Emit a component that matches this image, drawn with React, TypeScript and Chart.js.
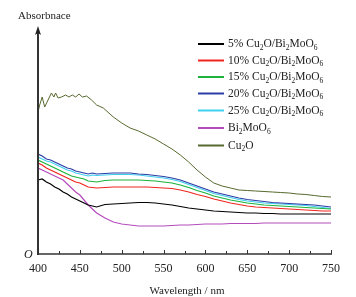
import React, { useEffect, useRef } from "react";
import { Chart, registerables } from "chart.js";

Chart.register(...registerables);

const wavelengths = [400,405,410,415,420,425,430,435,440,445,450,455,460,465,470,480,490,500,510,520,530,540,550,560,570,580,590,600,610,620,630,640,650,660,670,680,690,700,710,720,730,740,750];

const s5 = [0.74,0.75,0.72,0.70,0.67,0.65,0.62,0.60,0.57,0.55,0.53,0.51,0.49,0.48,0.47,0.495,0.50,0.505,0.51,0.515,0.515,0.51,0.50,0.49,0.475,0.46,0.45,0.44,0.43,0.425,0.42,0.415,0.41,0.41,0.405,0.405,0.40,0.40,0.40,0.40,0.40,0.40,0.40];
const s10 = [0.91,0.89,0.86,0.84,0.82,0.80,0.78,0.76,0.74,0.72,0.71,0.69,0.67,0.665,0.66,0.665,0.67,0.67,0.67,0.67,0.67,0.665,0.66,0.655,0.64,0.62,0.595,0.575,0.55,0.53,0.51,0.495,0.48,0.47,0.465,0.46,0.455,0.45,0.445,0.44,0.435,0.43,0.43];
const s15 = [0.94,0.92,0.90,0.88,0.86,0.84,0.82,0.80,0.78,0.77,0.76,0.75,0.73,0.725,0.72,0.735,0.74,0.74,0.74,0.74,0.735,0.73,0.72,0.71,0.69,0.665,0.635,0.61,0.58,0.56,0.54,0.525,0.51,0.50,0.49,0.485,0.48,0.475,0.47,0.465,0.46,0.455,0.45];
const s20 = [1.00,0.98,0.95,0.94,0.92,0.90,0.88,0.86,0.85,0.83,0.82,0.81,0.80,0.81,0.80,0.805,0.81,0.81,0.81,0.80,0.795,0.785,0.775,0.76,0.74,0.71,0.68,0.65,0.62,0.60,0.58,0.56,0.545,0.535,0.525,0.515,0.51,0.505,0.50,0.495,0.49,0.48,0.47];
const s25 = [0.97,0.95,0.93,0.92,0.90,0.88,0.86,0.84,0.83,0.81,0.80,0.79,0.78,0.79,0.785,0.79,0.795,0.795,0.795,0.79,0.78,0.77,0.76,0.745,0.725,0.695,0.665,0.635,0.605,0.585,0.565,0.545,0.53,0.52,0.51,0.505,0.50,0.495,0.49,0.485,0.475,0.465,0.455];
const bmo = [0.86,0.84,0.82,0.80,0.78,0.76,0.74,0.70,0.66,0.62,0.59,0.54,0.49,0.45,0.41,0.36,0.32,0.30,0.29,0.28,0.28,0.28,0.28,0.285,0.29,0.29,0.295,0.30,0.30,0.30,0.305,0.305,0.305,0.305,0.31,0.31,0.31,0.31,0.31,0.31,0.31,0.31,0.31];

const cu2oWavelengths = [400,402,405,408,412,416,419,421,424,428,433,437,441,445,449,453,458,464,470,478,490,500,510,520,530,540,550,560,570,580,590,600,610,620,630,640,650,660,670,680,690,700,710,720,730,740,750];
const cu2o = [1.42,1.49,1.57,1.47,1.54,1.61,1.57,1.61,1.56,1.57,1.59,1.57,1.59,1.57,1.60,1.57,1.58,1.54,1.49,1.46,1.37,1.31,1.26,1.23,1.19,1.15,1.10,1.05,0.99,0.92,0.84,0.77,0.71,0.68,0.66,0.64,0.635,0.63,0.625,0.62,0.615,0.61,0.60,0.595,0.585,0.575,0.57];

const xTicks = [400, 450, 500, 550, 600, 650, 700, 750];

// legend label parts: [text, isSubscript]
const legendParts: [string, boolean][][] = [
  [["5% Cu", false], ["2", true], ["O/Bi", false], ["2", true], ["MoO", false], ["6", true]],
  [["10% Cu", false], ["2", true], ["O/Bi", false], ["2", true], ["MoO", false], ["6", true]],
  [["15% Cu", false], ["2", true], ["O/Bi", false], ["2", true], ["MoO", false], ["6", true]],
  [["20% Cu", false], ["2", true], ["O/Bi", false], ["2", true], ["MoO", false], ["6", true]],
  [["25% Cu", false], ["2", true], ["O/Bi", false], ["2", true], ["MoO", false], ["6", true]],
  [["Bi", false], ["2", true], ["MoO", false], ["6", true]],
  [["Cu", false], ["2", true], ["O", false]],
];
const seriesNames = ["5% Cu2O/Bi2MoO6", "10% Cu2O/Bi2MoO6", "15% Cu2O/Bi2MoO6", "20% Cu2O/Bi2MoO6", "25% Cu2O/Bi2MoO6", "Bi2MoO6", "Cu2O"];
const seriesX = [wavelengths, wavelengths, wavelengths, wavelengths, wavelengths, wavelengths, cu2oWavelengths];
const seriesValues = [s5, s10, s15, s20, s25, bmo, cu2o];
const colors = ["#000000", "#f0261e", "#1cb43c", "#2c3ea6", "#3fd0f0", "#b44cbc", "#56692e"];

const SERIF = '"Liberation Serif", "Times New Roman", serif';

const decorPlugin = {
  id: "decor",
  afterDraw(chart: any) {
    const ctx = chart.ctx;
    const { left, right, bottom } = chart.chartArea;
    const xs = chart.scales.x;
    ctx.save();
    // axes
    ctx.strokeStyle = "#333";
    ctx.lineWidth = 2;
    ctx.beginPath();
    ctx.moveTo(left, bottom + 1);
    ctx.lineTo(left, 33);
    ctx.stroke();
    ctx.fillStyle = "#222";
    ctx.beginPath();
    ctx.moveTo(left, 26);
    ctx.lineTo(left - 3, 35);
    ctx.lineTo(left, 33);
    ctx.lineTo(left + 3, 35);
    ctx.closePath();
    ctx.fill();
    ctx.lineWidth = 1.5;
    ctx.beginPath();
    ctx.moveTo(left - 1, bottom);
    ctx.lineTo(right + 1, bottom);
    ctx.stroke();
    // inner ticks
    ctx.lineWidth = 1;
    for (let v = 425; v <= 750; v += 25) {
      const x = Math.round(xs.getPixelForValue(v)) + 0.5;
      const len = v % 50 === 0 ? 4 : 3;
      ctx.beginPath();
      ctx.moveTo(x, bottom);
      ctx.lineTo(x, bottom - len);
      ctx.stroke();
    }
    // texts
    ctx.fillStyle = "#222";
    ctx.textBaseline = "middle";
    ctx.font = `italic 12px ${SERIF}`;
    ctx.textAlign = "left";
    ctx.fillText("O", 24, 255);
    ctx.font = `11px ${SERIF}`;
    ctx.fillText("Absorbnace", 18, 16);
    ctx.textAlign = "center";
    ctx.font = `11px ${SERIF}`;
    ctx.fillText("Wavelength / nm", 187, 291);
    // legend
    ctx.textAlign = "left";
    const rowY = [44, 60.5, 77, 93.5, 110.5, 128, 145.5];
    legendParts.forEach((parts, i) => {
      const y = rowY[i];
      ctx.strokeStyle = colors[i];
      ctx.lineWidth = 2;
      ctx.beginPath();
      ctx.moveTo(198, y);
      ctx.lineTo(224, y);
      ctx.stroke();
      let x = 228;
      ctx.fillStyle = "#222";
      parts.forEach(([t, sub]) => {
        ctx.font = sub ? `7.5px ${SERIF}` : `11.5px ${SERIF}`;
        ctx.fillText(t, x, sub ? y + 4 : y);
        x += ctx.measureText(t).width;
      });
    });
    ctx.restore();
  },
};

export default function App() {
  const ref = useRef<HTMLCanvasElement>(null);
  useEffect(() => {
    document.body.style.margin = "0";
    document.body.style.overflow = "hidden";
    const chart = new Chart(ref.current as HTMLCanvasElement, {
      type: "line",
      data: {
        datasets: seriesValues.map((vals, i) => ({
          label: seriesNames[i],
          data: vals.map((v, j) => ({ x: seriesX[i][j], y: v })),
          borderColor: colors[i],
          backgroundColor: colors[i],
          borderWidth: i === 6 ? 1 : 1.2,
          pointRadius: 0,
          tension: 0,
          fill: false,
        })),
      },
      options: {
        responsive: false,
        animation: false,
        layout: { padding: { left: 38, right: 25, top: 29, bottom: 0 } },
        plugins: { legend: { display: false }, tooltip: { enabled: false } },
        scales: {
          x: {
            type: "linear",
            min: 400,
            max: 750,
            border: { display: false },
            grid: { display: false, drawTicks: false },
            afterFit: (s: any) => { s.height = 43; },
            afterBuildTicks: (s: any) => { s.ticks = xTicks.map((v) => ({ value: v })); },
            ticks: {
              autoSkip: false,
              maxRotation: 0,
              padding: 8,
              color: "#222",
              font: { family: SERIF, size: 12 },
            },
          },
          y: {
            display: false,
            min: 0,
            max: 2.25,
          },
        },
      },
      plugins: [decorPlugin],
    } as any);
    return () => chart.destroy();
  }, []);
  return <canvas ref={ref} width={356} height={297} style={{ display: "block" }} />;
}
